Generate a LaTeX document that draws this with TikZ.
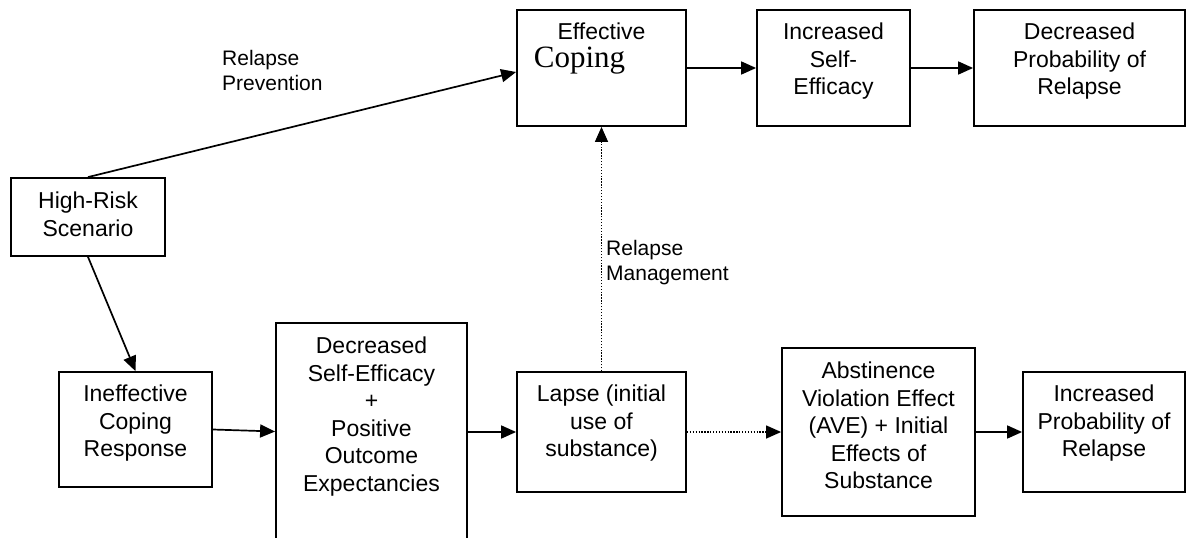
\documentclass[tikz,border=0pt]{standalone}
\usepackage{fontspec}
\setmainfont{Liberation Sans}
\newfontfamily\timesfont{Liberation Serif}
\usetikzlibrary{arrows.meta}
\usetikzlibrary{positioning}

\begin{document}
\begin{tikzpicture}[x=1pt,y=-1pt,>={Triangle[length=15pt,width=13pt]},
    box/.style={draw,line width=1.8pt,inner sep=0pt},
    boxtext/.style={align=center,inner sep=0pt,font=\fontsize{23}{27.5}\selectfont},
    note/.style={align=left,inner sep=0pt,font=\fontsize{21}{25}\selectfont},
    link/.style={->,line width=1.7pt},
    hint/.style={->,line width=1.3pt,dash pattern=on 1.3pt off 1.6pt}]
\useasboundingbox (0,0) rectangle (1187,538);

% top row
\node[box,minimum width=169pt,minimum height=116pt] (ec) at (601.5,68) {};
\node[box,minimum width=153pt,minimum height=116pt] (ise) at (833.5,68) {};
\node[box,minimum width=211pt,minimum height=116pt] (dpr) at (1079.5,68) {};
\node[boxtext,below=14pt of ec.north] (ectext)
    {Effective\\{\timesfont\fontsize{31}{34}\selectfont Coping\hspace*{44pt}}};
\node[boxtext,below=14pt of ise.north] (isetext) {Increased\\Self-\\Efficacy};
\node[boxtext,below=14pt of dpr.north] (dprtext) {Decreased\\Probability of\\Relapse};

% start
\node[box,minimum width=154pt,minimum height=78pt] (hrs) at (88,217) {};
\node[boxtext,below=15pt of hrs.north] (hrstext) {High-Risk\\Scenario};

% bottom row
\node[box,minimum width=153pt,minimum height=115pt] (icr) at (135.5,429.5) {};
\node[box,minimum width=191pt,minimum height=237pt] (dse) at (371.5,441.5) {};
\node[box,minimum width=169pt,minimum height=120pt] (lapse) at (601.5,432) {};
\node[box,minimum width=193pt,minimum height=168pt] (ave) at (878.5,432) {};
\node[box,minimum width=162pt,minimum height=120pt] (ipr) at (1104,432) {};
\node[boxtext,below=14pt of icr.north] (icrtext) {Ineffective\\Coping\\Response};
\node[boxtext,below=15pt of dse.north] (dsetext)
    {Decreased\\Self-Efficacy\\+\\Positive\\Outcome\\Expectancies};
\node[boxtext,below=14pt of lapse.north] (lapsetext) {Lapse (initial\\use of\\substance)};
\node[boxtext,below=15pt of ave.north] (avetext)
    {Abstinence\\Violation Effect\\(AVE) + Initial\\Effects of\\Substance};
\node[boxtext,below=14pt of ipr.north] (iprtext) {Increased\\Probability of\\Relapse};

% labels
\node[note,anchor=north west] (rp) at (222,50) {Relapse\\Prevention};
\node[note,anchor=north west] (rm) at (606,240) {Relapse\\Management};

% connectors
\draw[link] (hrs.north) -- ([yshift=-4pt]ec.west);
\draw[link] (ec.east) -- (ise.west);
\draw[link] (ise.east) -- (dpr.west);
\draw[link] (hrs.south) -- (icr.north);
\draw[link] (icr.east) -- ([yshift=-2pt]icr.east -| dse.west);
\draw[link] (lapse.west -| dse.east) -- (lapse.west);
\draw[hint] (lapse.east) -- (ave.west);
\draw[link] (ave.east) -- (ipr.west);
\draw[hint] (lapse.north) -- (ec.south);
\end{tikzpicture}
\end{document}
